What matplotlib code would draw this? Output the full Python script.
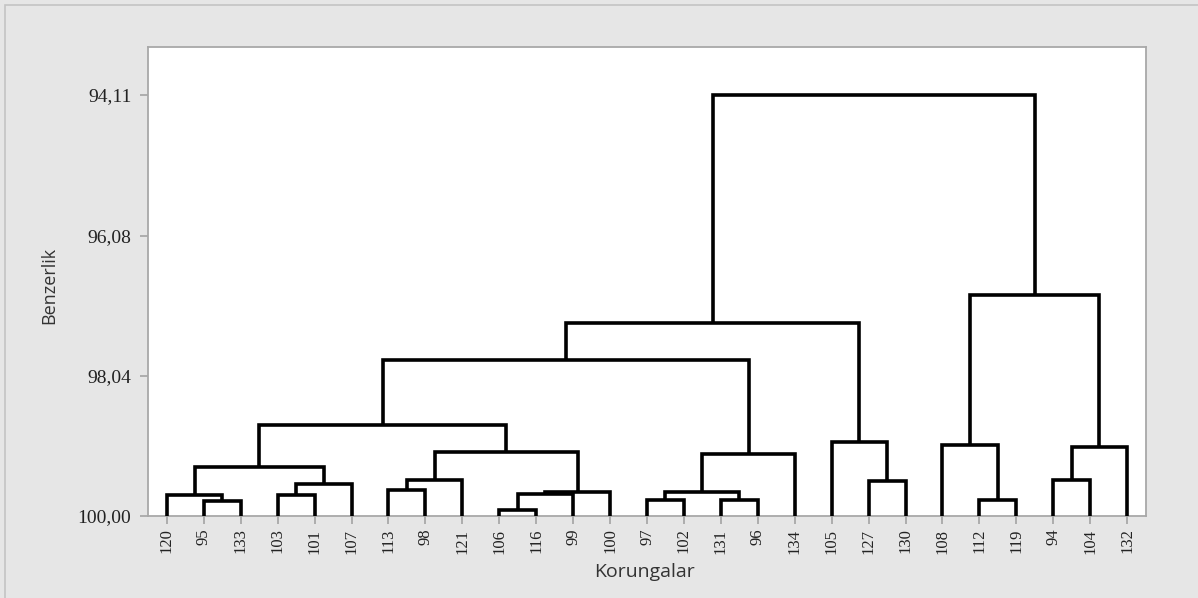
import matplotlib
matplotlib.use("Agg")
import matplotlib.pyplot as plt
from matplotlib.patches import Rectangle

# Leaf labels in display order
leaf_labels = ["120", "95", "133", "103", "101", "107", "113", "98", "121",
               "106", "116", "99", "100", "97", "102", "131", "96", "134",
               "105", "127", "130", "108", "112", "119", "94", "104", "132"]

# Merge steps: (left cluster, right cluster); leaves are 0..26,
# each merge creates the next cluster id starting at 27
merge_left = [9, 1, 13, 15, 22, 27, 3, 0, 32, 29, 6, 33, 19, 24, 37,
              34, 36, 41, 40, 21, 18, 42, 48, 49, 46, 50]
merge_right = [10, 2, 14, 16, 23, 11, 4, 28, 12, 30, 7, 5, 20, 25, 8,
               38, 17, 35, 26, 31, 39, 44, 43, 47, 45, 51]
# Similarity level at which each merge happens
merge_level = [99.92, 99.79, 99.78, 99.78, 99.78, 99.69, 99.71, 99.70,
               99.66, 99.66, 99.64, 99.55, 99.51, 99.49, 99.49, 99.31,
               99.13, 99.10, 99.03, 99.01, 98.97, 98.72, 97.82, 97.30,
               96.91, 94.11]

y_ticks = [94.11, 96.08, 98.04, 100.00]
y_tick_labels = ["94,11", "96,08", "98,04", "100,00"]

W, H = 1198, 598
fig = plt.figure(figsize=(W / 100, H / 100), dpi=100)
fig.patch.set_facecolor("#e6e6e6")
fig.patches.append(Rectangle((5 / W, -0.05), 1.2, 1 - 5 / H + 0.05,
                             transform=fig.transFigure, fill=False,
                             edgecolor="#c4c4c4", linewidth=1.2))

ax = fig.add_axes([148 / W, 1 - 516 / H, (1146 - 148) / W, (516 - 47) / H])
ax.set_facecolor("white")

n = len(leaf_labels)
xpos = {i: float(i) for i in range(n)}
ypos = {i: 100.0 for i in range(n)}

for k, (a, b, h) in enumerate(zip(merge_left, merge_right, merge_level)):
    xa, xb = xpos[a], xpos[b]
    ya, yb = ypos[a], ypos[b]
    ax.plot([xa, xa, xb, xb], [ya, h, h, yb], color="black",
            linewidth=2.6, solid_joinstyle="miter", solid_capstyle="butt",
            zorder=3)
    cid = n + k
    xpos[cid] = (xa + xb) / 2
    ypos[cid] = h

ax.set_xlim(-0.51, n - 1 + 0.51)
ax.set_ylim(100.0, 93.438)

ax.set_xticks(range(n))
ax.set_xticklabels(leaf_labels, rotation=90, family="Liberation Serif",
                   fontsize=12, color="#222222")
ax.set_yticks(y_ticks)
ax.set_yticklabels(y_tick_labels, family="Liberation Serif", fontsize=14,
                   color="#222222")

for s in ax.spines.values():
    s.set_color("#a8a8a8")
    s.set_linewidth(1.3)
ax.tick_params(axis="both", direction="out", length=6, width=1.3,
               color="#a8a8a8", pad=3)
ax.tick_params(axis="y", pad=6)

fig.text(645 / W, 1 - 572 / H, "Korungalar", ha="center", va="center",
         fontsize=14, color="#333333", family="Open Sans")
fig.text(49 / W, 1 - 285 / H, "Benzerlik", ha="center", va="center",
         rotation=90, fontsize=13, color="#333333",
         family=["Liberation Sans Narrow", "Open Sans"])

fig.savefig("out.png", dpi=100, facecolor=fig.get_facecolor())
